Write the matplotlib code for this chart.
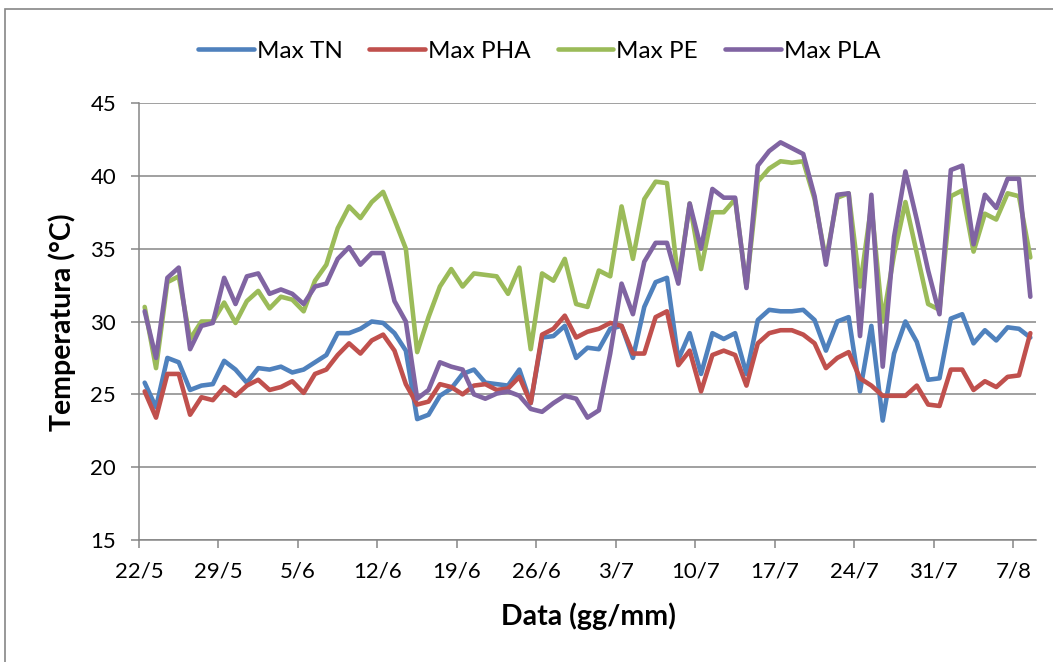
import numpy as np
import matplotlib
matplotlib.use("Agg")
import matplotlib.pyplot as plt
from matplotlib.patches import Rectangle

# Daily maximum temperatures (°C), one value per day from 22/5 to 8/8
max_tn = [25.8, 24.1, 27.5, 27.2, 25.3, 25.6, 25.7, 27.3, 26.7, 25.8,
          26.8, 26.7, 26.9, 26.5, 26.7, 27.2, 27.7, 29.2, 29.2, 29.5,
          30.0, 29.9, 29.2, 28.0, 23.3, 23.6, 24.9, 25.4, 26.4, 26.7,
          25.8, 25.7, 25.6, 26.7, 24.4, 28.9, 29.0, 29.7, 27.5, 28.2,
          28.1, 29.5, 29.7, 27.5, 31.0, 32.7, 33.0, 27.4, 29.2, 26.4,
          29.2, 28.8, 29.2, 26.4, 30.1, 30.8, 30.7, 30.7, 30.8, 30.1,
          28.0, 30.0, 30.3, 25.2, 29.7, 23.2, 27.8, 30.0, 28.6, 26.0,
          26.1, 30.2, 30.5, 28.5, 29.4, 28.7, 29.6, 29.5, 28.9]

max_pha = [25.2, 23.4, 26.4, 26.4, 23.6, 24.8, 24.6, 25.5, 24.9, 25.6,
           26.0, 25.3, 25.5, 25.9, 25.1, 26.4, 26.7, 27.7, 28.5, 27.8,
           28.7, 29.1, 28.0, 25.7, 24.3, 24.5, 25.7, 25.5, 25.0, 25.6,
           25.7, 25.3, 25.4, 26.2, 24.4, 29.1, 29.5, 30.4, 28.9, 29.3,
           29.5, 29.9, 29.7, 27.8, 27.8, 30.3, 30.7, 27.0, 28.0, 25.2,
           27.7, 28.0, 27.7, 25.6, 28.5, 29.2, 29.4, 29.4, 29.1, 28.5,
           26.8, 27.5, 27.9, 26.1, 25.6, 24.9, 24.9, 24.9, 25.6, 24.3,
           24.2, 26.7, 26.7, 25.3, 25.9, 25.5, 26.2, 26.3, 29.2]

max_pe = [31.0, 26.8, 32.7, 33.1, 28.8, 30.0, 30.0, 31.3, 29.9, 31.4,
          32.1, 30.9, 31.7, 31.5, 30.7, 32.8, 33.9, 36.4, 37.9, 37.1,
          38.2, 38.9, 37.0, 35.0, 27.9, 30.3, 32.4, 33.6, 32.4, 33.3,
          33.2, 33.1, 31.9, 33.7, 28.1, 33.3, 32.8, 34.3, 31.2, 31.0,
          33.5, 33.1, 37.9, 34.3, 38.4, 39.6, 39.5, 32.8, 38.1, 33.6,
          37.5, 37.5, 38.4, 32.4, 39.6, 40.5, 41.0, 40.9, 41.0, 38.4,
          34.2, 38.5, 38.8, 32.4, 38.0, 30.0, 34.6, 38.2, 34.7, 31.2,
          30.8, 38.6, 39.0, 34.8, 37.4, 37.0, 38.8, 38.6, 34.4]

max_pla = [30.7, 27.5, 33.0, 33.7, 28.1, 29.7, 29.9, 33.0, 31.2, 33.1,
           33.3, 31.9, 32.2, 31.9, 31.2, 32.4, 32.6, 34.3, 35.1, 33.9,
           34.7, 34.7, 31.4, 30.0, 24.7, 25.3, 27.2, 26.9, 26.7, 25.0,
           24.7, 25.05, 25.2, 24.9, 24.0, 23.8, 24.4, 24.9, 24.7, 23.4,
           23.9, 27.8, 32.6, 30.5, 34.1, 35.4, 35.4, 32.6, 38.1, 35.0,
           39.1, 38.5, 38.5, 32.3, 40.7, 41.7, 42.3, 41.9, 41.5, 38.6,
           33.9, 38.7, 38.8, 29.0, 38.7, 26.9, 35.8, 40.3, 37.0, 33.5,
           30.5, 40.4, 40.7, 35.3, 38.7, 37.8, 39.8, 39.8, 31.7]

series_names = ["Max TN", "Max PHA", "Max PE", "Max PLA"]
series_colors = ["#4F81BD", "#C0504D", "#9BBB59", "#8064A2"]

tick_labels = ["22/5", "29/5", "5/6", "12/6", "19/6", "26/6",
               "3/7", "10/7", "17/7", "24/7", "31/7", "7/8"]
tick_days = [0, 7, 14, 21, 28, 35, 42, 49, 56, 63, 70, 77]

plt.rcParams["font.family"] = ["Lato", "DejaVu Sans"]

W, H = 1053, 662
fig = plt.figure(figsize=(W / 100, H / 100), dpi=100)

# plot area in pixel coordinates
x0, x1, y_top, y_bot = 139, 1036, 103, 540
ax = fig.add_axes([x0 / W, (H - y_bot) / H, (x1 - x0) / W, (y_bot - y_top) / H])

grey = "#868686"
n_days = len(max_tn)
days = np.arange(n_days) + 0.5  # each point sits in the middle of its day slot

all_series = [max_tn, max_pha, max_pe, max_pla]
for name, vals, col in zip(series_names, all_series, series_colors):
    ax.plot(days, vals, color=col, lw=3.3, label=name,
            solid_joinstyle="round", solid_capstyle="round")

ax.set_xlim(0, n_days)
ax.set_ylim(15, 45)
ax.set_yticks(np.arange(15, 46, 5))
ax.set_xticks(tick_days)
ax.set_xticklabels(tick_labels)

ax.yaxis.grid(True, color=grey, lw=1.1)
ax.set_axisbelow(True)
for side in ("top", "right"):
    ax.spines[side].set_visible(False)
for side in ("left", "bottom"):
    ax.spines[side].set_color(grey)
    ax.spines[side].set_linewidth(1.1)

ax.tick_params(axis="both", direction="out", color=grey, width=1.1,
               length=5.5, labelsize=16, labelcolor="black")
ax.tick_params(axis="y", pad=11)
ax.tick_params(axis="x", pad=10)

fig.text(588 / W, 1 - 616 / H, "Data (gg/mm)", ha="center", va="center",
         fontsize=20.5, fontweight="bold")
fig.text(62 / W, 1 - 322 / H, "Temperatura (°C)", ha="center", va="center",
         rotation=90, fontsize=20.5, fontweight="bold")

ax.legend(loc="center", bbox_to_anchor=(539 / W, 1 - 51 / H),
          bbox_transform=fig.transFigure, ncol=4, frameon=False,
          fontsize=17.5, handlelength=2.3, handletextpad=0.12,
          columnspacing=1.1)

# chart area border
fig.patches.append(Rectangle((5 / W, -0.1), 1.2, 1.1 - 9 / H,
                             transform=fig.transFigure, fill=False,
                             edgecolor=grey, lw=1.2))

fig.savefig("out.png", dpi=100)
